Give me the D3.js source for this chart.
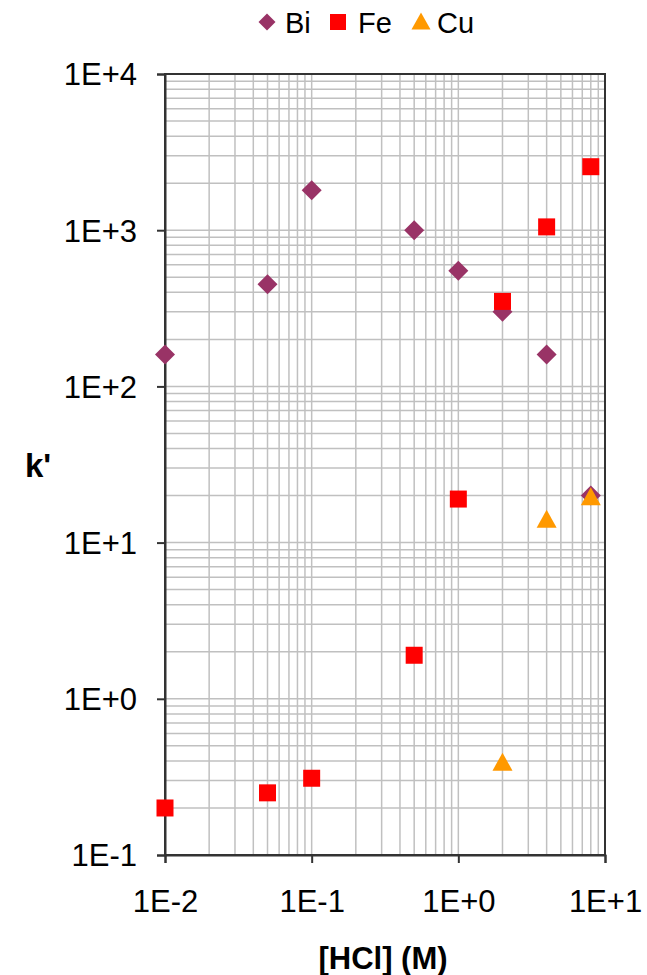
<!DOCTYPE html>
<html>
<head>
<meta charset="utf-8">
<script src="https://cdn.jsdelivr.net/npm/d3@7"></script>
<style>
  body { margin: 0; background: #fff; }
  text { font-family: "Liberation Sans", Arial, sans-serif; fill: #000; }
</style>
</head>
<body>
<div id="chart"></div>
<script>
// [HCI] in M
var biX = [0.01, 0.05, 0.1, 0.5, 1, 2, 4, 8];
var biK = [160, 450, 1800, 1000, 550, 300, 160, 20];
var feX = [0.01, 0.05, 0.1, 0.5, 1, 2, 4, 8];
var feK = [0.2, 0.25, 0.31, 1.9, 19, 350, 1050, 2550];
var cuX = [2, 4, 8];
var cuK = [0.39, 14, 19.5];

var xTicks = [0.01, 0.1, 1, 10];
var xTickLabels = ["1E-2", "1E-1", "1E+0", "1E+1"];
var yTicks = [0.1, 1, 10, 100, 1000, 10000];
var yTickLabels = ["1E-1", "1E+0", "1E+1", "1E+2", "1E+3", "1E+4"];

var _width = 647, _height = 975;
var margin = {left: 165, right: 42, top: 74, bottom: 120};

var svg = d3.select("#chart").append("svg")
  .attr("width", _width)
  .attr("height", _height);

var x = d3.scaleLog().domain([0.01, 10]).range([margin.left, _width - margin.right]);
var y = d3.scaleLog().domain([0.1, 10000]).range([_height - margin.bottom, margin.top]);

// grid, 1..9 per decade
function gridValues(lo, hi) {
  var out = [];
  for (var e = lo; e < hi; e++) {
    for (var m = 2; m <= 9; m++) out.push(m * Math.pow(10, e));
    if (e > lo) out.push(Math.pow(10, e));
  }
  return out;
}

var grid = svg.append("g").attr("class", "grid")
  .attr("stroke", "#c0c0c0").attr("stroke-width", 1.5);

grid.selectAll("line.v").data(gridValues(-2, 1)).enter().append("line")
  .attr("class", "v")
  .attr("x1", function (d) { return x(d); })
  .attr("x2", function (d) { return x(d); })
  .attr("y1", y(0.1)).attr("y2", y(10000));

grid.selectAll("line.h").data(gridValues(-1, 4)).enter().append("line")
  .attr("class", "h")
  .attr("y1", function (d) { return y(d); })
  .attr("y2", function (d) { return y(d); })
  .attr("x1", x(0.01)).attr("x2", x(10));

// frame
svg.append("rect")
  .attr("x", x(0.01)).attr("y", y(10000))
  .attr("width", x(10) - x(0.01)).attr("height", y(0.1) - y(10000))
  .attr("fill", "none").attr("stroke", "#333").attr("stroke-width", 2);

var xAxis = svg.append("g")
  .attr("transform", "translate(0," + y(0.1) + ")")
  .call(d3.axisBottom(x).tickValues(xTicks)
    .tickFormat(function (d, i) { return xTickLabels[i]; })
    .tickSize(8).tickPadding(27));

var yAxis = svg.append("g")
  .attr("transform", "translate(" + x(0.01) + ",0)")
  .call(d3.axisLeft(y).tickValues(yTicks)
    .tickFormat(function (d, i) { return yTickLabels[i]; })
    .tickSize(8).tickPadding(20));

[xAxis, yAxis].forEach(function (ax) {
  ax.select(".domain").attr("stroke", "#333").attr("stroke-width", 2);
  ax.selectAll(".tick line").attr("stroke", "#333").attr("stroke-width", 2);
  ax.selectAll(".tick text")
    .attr("fill", "#000")
    .style("font-family", "'Liberation Sans', Arial, sans-serif")
    .style("font-size", "31px");
});
xAxis.selectAll(".tick text").attr("dy", "0.71em");
yAxis.selectAll(".tick text").attr("dy", "0.35em");

// axis titles
svg.append("text")
  .attr("x", 383).attr("y", 969)
  .attr("text-anchor", "middle")
  .style("font-size", "31px").style("font-weight", "bold")
  .text("[HCl] (M)");

svg.append("text")
  .attr("x", 38).attr("y", 477)
  .attr("text-anchor", "middle")
  .style("font-size", "33px").style("font-weight", "bold")
  .text("k'");

// markers
function diamondPath(r) {
  return "M0," + (-r) + "L" + r + ",0L0," + r + "L" + (-r) + ",0Z";
}
function squarePath(r) {
  return "M" + (-r) + "," + (-r) + "H" + r + "V" + r + "H" + (-r) + "Z";
}
function trianglePath(r) {
  return "M0," + (-r) + "L" + r + "," + (r * 0.8) + "L" + (-r) + "," + (r * 0.8) + "Z";
}

var series = [
  {name: "Bi", xs: biX, ks: biK, color: "#993366", path: diamondPath(10)},
  {name: "Fe", xs: feX, ks: feK, color: "#ff0000", path: squarePath(8.5)},
  {name: "Cu", xs: cuX, ks: cuK, color: "#ff9900", path: trianglePath(10)}
];

var marks = svg.append("g").attr("class", "marks");
series.forEach(function (s) {
  marks.selectAll("path." + s.name).data(s.xs).enter().append("path")
    .attr("class", s.name)
    .attr("d", s.path)
    .attr("fill", s.color)
    .attr("transform", function (d, i) {
      return "translate(" + x(d) + "," + y(s.ks[i]) + ")";
    });
});

// legend
var legendItems = [
  {name: "Bi", color: "#993366", path: diamondPath(8.5), mx: 267, tx: 285},
  {name: "Fe", color: "#ff0000", path: squarePath(8), mx: 338, tx: 358},
  {name: "Cu", color: "#ff9900", path: trianglePath(9.5), mx: 421, tx: 437}
];
var legend = svg.append("g").attr("class", "legend");
legendItems.forEach(function (l) {
  legend.append("path")
    .attr("d", l.path)
    .attr("fill", l.color)
    .attr("transform", "translate(" + l.mx + ",22)");
  legend.append("text")
    .attr("x", l.tx).attr("y", 33)
    .style("font-size", "29px")
    .text(l.name);
});
</script>
</body>
</html>
